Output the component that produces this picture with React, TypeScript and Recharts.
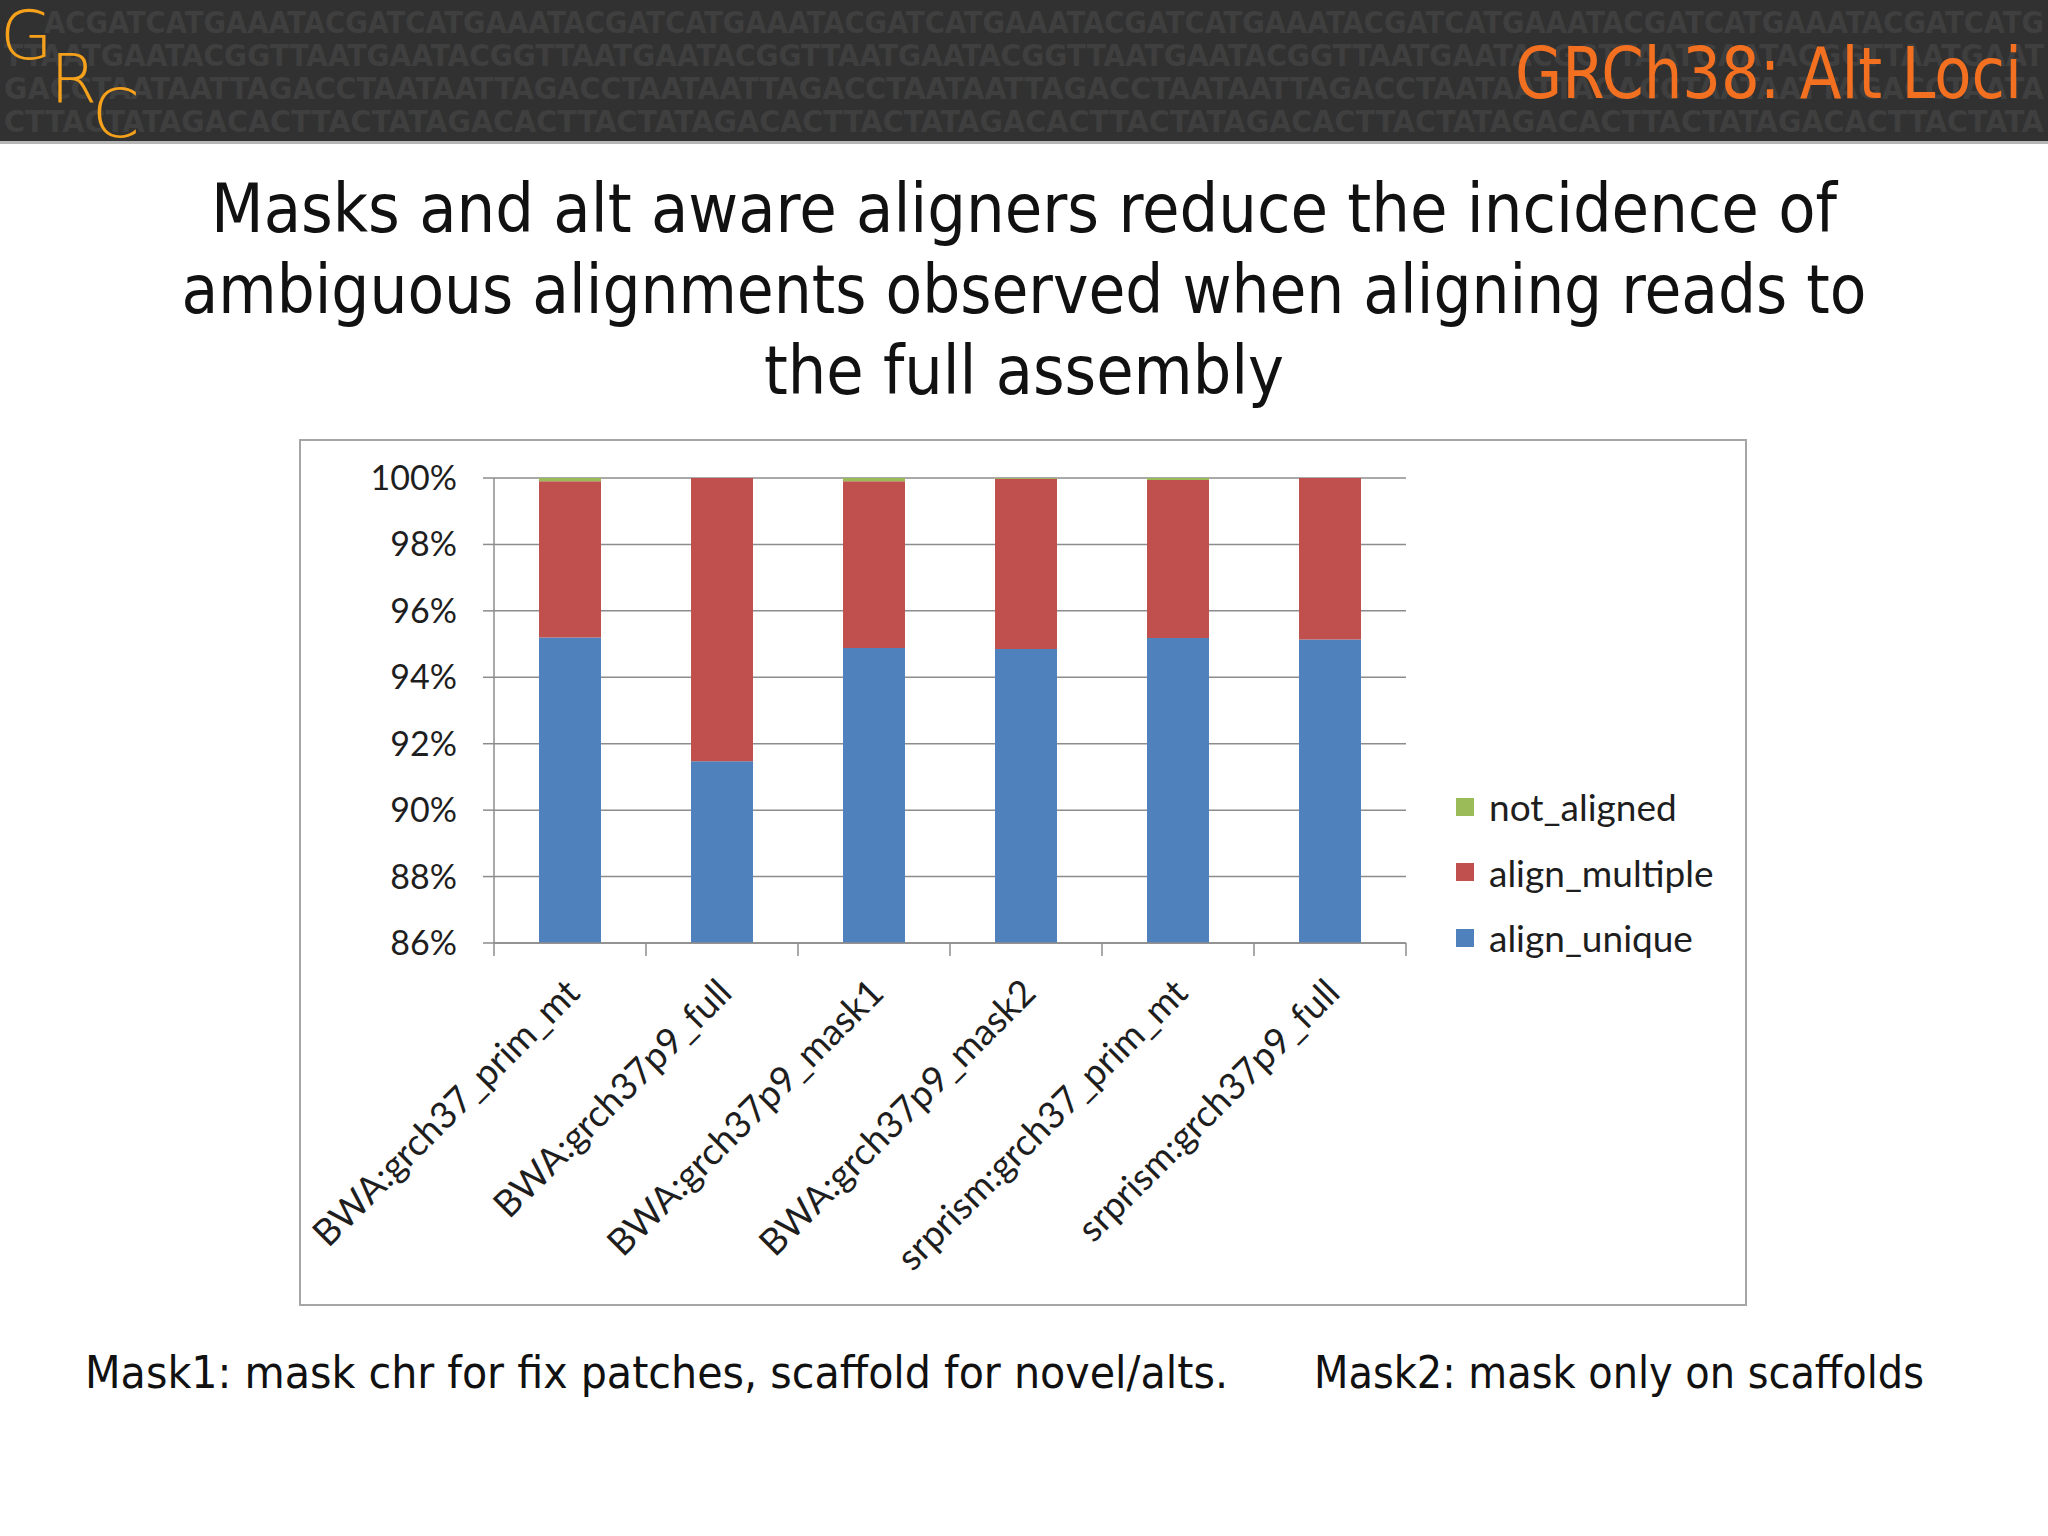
import React from "react"
import { BarChart, Bar, XAxis, YAxis, CartesianGrid, Legend } from "recharts"

// values (percent of reads)
const categories = [
    "BWA:grch37_prim_mt",
    "BWA:grch37p9_full",
    "BWA:grch37p9_mask1",
    "BWA:grch37p9_mask2",
    "srprism:grch37_prim_mt",
    "srprism:grch37p9_full",
]
const alignUnique = [95.2, 91.47, 94.88, 94.85, 95.18, 95.14]
const alignMultiple = [4.7, 8.53, 5.02, 5.13, 4.76, 4.86]
const notAligned = [0.1, 0.0, 0.1, 0.02, 0.06, 0.0]
const yTicks = [86, 88, 90, 92, 94, 96, 98, 100]

const legendOrder = ["not_aligned", "align_multiple", "align_unique"]
const colors: Record<string, string> = {
    align_unique: "#4f81bd",
    align_multiple: "#c0504d",
    not_aligned: "#9bbb59",
}

const headerTitle = "GRCh38: Alt Loci"
const titleLines = [
    "Masks and alt aware aligners reduce the incidence of",
    "ambiguous alignments observed when aligning reads to",
    "the full assembly",
]
const footerNotes = [
    "Mask1: mask chr for fix patches, scaffold for novel/alts.",
    "Mask2: mask only on scaffolds",
]
const dnaUnits = ["ACGATCATGAAAT", "TTAATGAATACGG", "GACCTAATAATTA", "CTTACTATAGACA"]

const chartData = categories.map((name, i) => ({
    name,
    align_unique: alignUnique[i],
    align_multiple: alignMultiple[i],
    not_aligned: notAligned[i],
}))

const CHART_W = 1448
const CHART_H = 867
const MARGIN = { top: 39, right: 341, left: 0, bottom: 0 }
const Y_AXIS_W = 195
const PLOT_W = CHART_W - Y_AXIS_W - MARGIN.right
const BAND = PLOT_W / categories.length
const CHART_FONT = "Lato, 'Open Sans', sans-serif"
const AXIS_GRAY = "#8c8c8c"

function CategoryTick(props: any) {
    const { x, y, payload } = props
    const last = payload.value === categories[categories.length - 1]
    return (
        <g>
            <line x1={x - BAND / 2} x2={x - BAND / 2} y1={y} y2={y + 13} stroke={AXIS_GRAY} strokeWidth={1.5} />
            {last && (
                <line x1={x + BAND / 2} x2={x + BAND / 2} y1={y} y2={y + 13} stroke={AXIS_GRAY} strokeWidth={1.5} />
            )}
            <text
                transform={`translate(${x + 12},${y + 52}) rotate(-45)`}
                textAnchor="end"
                fontSize={37}
                fontFamily={CHART_FONT}
                fill="#1e1e1e"
            >
                {payload.value}
            </text>
        </g>
    )
}

function LegendContent(props: any) {
    const payload = props.payload || []
    const items = legendOrder.map((key) => {
        const found = payload.find((p: any) => p.dataKey === key || p.value === key)
        return { key, color: found ? found.color : colors[key] }
    })
    return (
        <div style={{ fontFamily: CHART_FONT, fontSize: 37, color: "#1e1e1e" }}>
            {items.map((it) => (
                <div key={it.key} style={{ display: "flex", alignItems: "center", height: 65.5 }}>
                    <span style={{ width: 18, height: 18, background: it.color, marginRight: 15 }} />
                    <span>{it.key}</span>
                </div>
            ))}
        </div>
    )
}

function Header() {
    return (
        <g>
            <rect x={0} y={0} width={2048} height={141} fill="#313131" />
            <rect x={0} y={141} width={2048} height={3} fill="#b5b5b5" />
            {dnaUnits.map((unit, r) => {
                const text = unit.repeat(8).slice(0, 100)
                const x0 = r === 0 ? 44 : 4
                return (
                    <text
                        key={r}
                        x={x0}
                        y={33 + r * 33}
                        fontFamily="'DejaVu Sans Condensed', 'DejaVu Sans', sans-serif"
                        fontWeight="bold"
                        fontSize={30}
                        fill="#3f3f3f"
                        textLength={2044 - x0}
                        lengthAdjust="spacingAndGlyphs"
                    >
                        {text}
                    </text>
                )
            })}
            <g fontFamily="'DejaVu Sans', sans-serif" fontWeight={300} fontSize={68} fill="#f5a11b">
                <text x={0} y={59}>G</text>
                <text x={50} y={102}>R</text>
                <text x={92} y={137}>C</text>
            </g>
            <text
                x={1515}
                y={98}
                fontFamily="'Liberation Sans Narrow', 'DejaVu Sans Condensed', sans-serif"
                fontSize={72}
                fill="#f37021"
                textLength={507}
                lengthAdjust="spacingAndGlyphs"
            >
                {headerTitle}
            </text>
        </g>
    )
}

export default function App() {
    const titleWidths = [1626, 1685, 520]
    return (
        <div
            style={{
                position: "absolute",
                left: 0,
                top: 0,
                width: 2048,
                height: 1536,
                background: "#ffffff",
                overflow: "hidden",
            }}
        >
            <svg width={2048} height={1536} style={{ position: "absolute", left: 0, top: 0 }}>
                <Header />
                <g fontFamily="'DejaVu Sans Condensed', 'DejaVu Sans', sans-serif" fontSize={68} fill="#111">
                    {titleLines.map((line, i) => (
                        <text
                            key={i}
                            x={1024}
                            y={232 + i * 81}
                            textAnchor="middle"
                            textLength={titleWidths[i]}
                            lengthAdjust="spacingAndGlyphs"
                        >
                            {line}
                        </text>
                    ))}
                </g>
                <g fontFamily="'DejaVu Sans Condensed', 'DejaVu Sans', sans-serif" fontSize={44} fill="#111">
                    <text x={85} y={1388} textLength={1143} lengthAdjust="spacingAndGlyphs">
                        {footerNotes[0]}
                    </text>
                    <text x={1314} y={1388} textLength={610} lengthAdjust="spacingAndGlyphs">
                        {footerNotes[1]}
                    </text>
                </g>
            </svg>

            <div
                style={{
                    position: "absolute",
                    left: 299,
                    top: 439,
                    width: CHART_W,
                    height: CHART_H,
                    border: "2px solid #a6a6a6",
                    boxSizing: "border-box",
                    background: "#fff",
                }}
            >
                <div style={{ position: "absolute", left: -2, top: -2 }}>
                    <BarChart width={CHART_W} height={CHART_H} data={chartData} margin={MARGIN} barSize={62}>
                        <CartesianGrid horizontal vertical={false} stroke={AXIS_GRAY} strokeWidth={1.5} />
                        <XAxis
                            dataKey="name"
                            height={363}
                            interval={0}
                            tickLine={false}
                            tickSize={0}
                            tickMargin={0}
                            axisLine={{ stroke: AXIS_GRAY, strokeWidth: 1.5 }}
                            tick={<CategoryTick />}
                        />
                        <YAxis
                            width={Y_AXIS_W}
                            domain={[86, 100]}
                            ticks={yTicks}
                            allowDataOverflow
                            interval={0}
                            tickFormatter={(v) => `${v}%`}
                            tickSize={11}
                            tickMargin={26}
                            tickLine={{ stroke: AXIS_GRAY, strokeWidth: 1.5 }}
                            axisLine={{ stroke: AXIS_GRAY, strokeWidth: 1.5 }}
                            tick={{ fill: "#1e1e1e", fontSize: 34, fontFamily: CHART_FONT }}
                        />
                        <Legend
                            layout="vertical"
                            align="center"
                            verticalAlign="middle"
                            content={<LegendContent />}
                            wrapperStyle={{ left: 1157, top: 335, width: 280 }}
                        />
                        <Bar dataKey="align_unique" stackId="s" fill={colors.align_unique} isAnimationActive={false} />
                        <Bar dataKey="align_multiple" stackId="s" fill={colors.align_multiple} isAnimationActive={false} />
                        <Bar dataKey="not_aligned" stackId="s" fill={colors.not_aligned} isAnimationActive={false} />
                    </BarChart>
                </div>
            </div>
        </div>
    )
}
